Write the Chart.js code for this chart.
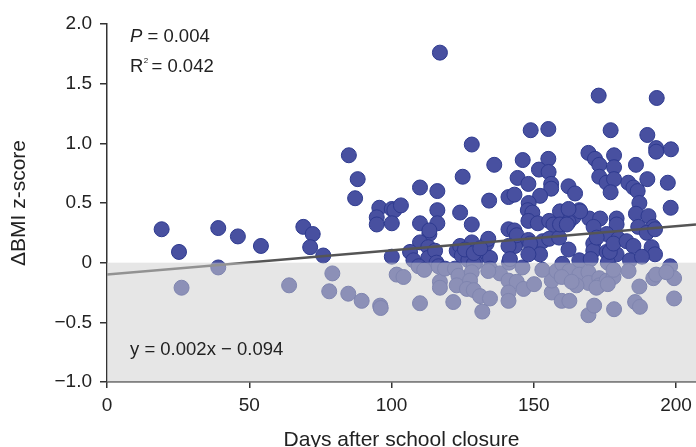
<!DOCTYPE html>
<html>
<head>
<meta charset="utf-8">
<script src="https://cdn.jsdelivr.net/npm/chart.js@4/dist/chart.umd.min.js"></script>
<style>
  html, body { margin: 0; padding: 0; background: #fff; }
  #wrap { width: 696px; height: 447px; }
</style>
</head>
<body>
<div id="wrap"><canvas id="chart"></canvas></div>
<script>
// days after school closure vs change in BMI z-score
const days = [
    19.2, 25.3, 26.2, 39.1, 39.1, 46.0, 54.1, 64.0, 69.0, 72.3, 71.4, 76.0, 79.2, 78.1, 84.8,
    85.0, 88.1, 87.2, 89.5, 95.7, 94.8, 94.8, 96.0, 96.2,
    100.1, 101.0, 103.3, 100.1, 100.1, 101.8, 104.2, 110.0, 110.0, 113.3, 110.0, 106.5, 107.7, 112.9, 112.9, 115.3,
    115.8, 116.1, 116.1, 116.1, 113.3, 117.0, 110.0, 116.5, 117.0, 117.0, 109.5, 111.5, 118.8,
    125.0, 124.1, 128.2, 128.2, 122.9, 124.1, 124.7, 128.2, 130.5, 133.4, 134.0, 134.6, 127.0, 129.5, 134.3, 136.1,
    121.7, 122.3, 123.5, 122.9, 128.9, 128.2, 127.6, 126.5, 128.9, 131.1, 134.6, 131.9, 134.6, 138.1, 125.8, 128.9, 131.2,
    134.0, 141.3, 143.4,
    141.1, 143.2, 144.3, 146.1, 148.1, 148.9, 155.1, 155.1, 151.8, 155.2, 156.1, 156.1, 152.2, 148.2, 147.9, 149.5,
    148.1, 151.4, 141.1, 143.2, 144.0, 141.1, 141.6, 149.3, 148.1, 153.1, 155.4, 158.9, 152.2, 155.4, 158.7, 159.2,
    141.1, 144.0, 146.4, 141.1, 141.1, 150.1, 156.3, 156.3, 159.8, 162.5, 146.0, 153.0, 158.0, 160.0,
    148.7, 148.1, 156.9,
    162.2, 164.5, 162.7, 166.0, 163.9, 162.2, 169.2, 171.5, 173.0, 173.0, 175.6, 172.8, 177.0, 178.2, 178.2, 178.2,
    177.0, 169.5, 173.3, 179.1, 179.1, 175.6, 170.9, 170.9, 175.6, 179.1, 179.7, 162.2, 166.0, 170.0, 176.0,
    171.0, 172.1, 176.7, 166.3, 162.2, 159.2, 161.6, 178.0,
    169.2, 171.2, 178.2, 162.5, 166.0, 169.2, 169.2, 165.0, 173.0, 173.0, 175.6, 178.0, 178.0,
    159.8, 163.3, 172.0, 176.0,
    182.6, 185.0, 183.8, 185.9, 183.2, 185.0, 186.5, 187.1, 185.9, 190.3, 189.9, 189.9, 193.2, 193.0, 193.0, 198.2,
    197.1, 198.1, 192.0, 186.7, 189.7, 192.6, 191.4, 192.6, 188.0,
    185.6, 187.3, 199.3, 187.1, 192.0, 197.9, 199.3, 183.3, 193.0, 196.6
];
const bmiZ = [
    0.28, 0.09, -0.21, 0.29, -0.04, 0.22, 0.14, -0.19, 0.30, 0.24, 0.13, 0.06, -0.09, -0.24, -0.26,
    0.90, 0.70, 0.54, -0.32, 0.46, 0.38, 0.32, -0.36, -0.38,
    0.45, 0.44, 0.48, 0.33, 0.05, -0.10, -0.12, 0.63, 0.33, 0.24, 0.17, 0.09, 0.02, 0.13, 0.04, 0.10,
    0.00, 0.60, 0.44, 0.33, 0.27, 1.76, -0.34, -0.03, -0.16, -0.21, -0.03, -0.06, -0.05,
    0.72, 0.42, 0.99, 0.32, 0.10, 0.14, 0.06, 0.17, 0.09, 0.16, 0.20, 0.04, 0.02, 0.00, 0.52, 0.82,
    -0.33, -0.05, -0.11, -0.19, -0.01, -0.08, -0.15, -0.22, -0.23, -0.28, -0.30, -0.41, -0.05, -0.09, 0.11, 0.08, 0.12,
    -0.07, 0.00, 0.14,
    0.55, 0.57, 0.71, 0.86, 0.66, 1.11, 1.12, 0.87, 0.78, 0.76, 0.66, 0.62, 0.56, 0.50, 0.44, 0.42,
    0.35, 0.33, 0.28, 0.27, 0.23, 0.14, 0.03, 0.09, 0.19, 0.18, 0.20, 0.21, 0.07, 0.35, 0.33, 0.43,
    -0.15, -0.16, -0.22, -0.25, -0.32, -0.18, -0.25, -0.15, -0.32, -0.32, -0.04, -0.06, -0.07, -0.01,
    0.16, 0.07, 0.32,
    0.64, 0.58, 0.43, 0.44, 0.38, 0.34, 0.92, 0.87, 0.82, 0.72, 0.67, 1.40, 1.11, 0.90, 0.80, 0.70,
    0.59, 0.37, 0.37, 0.37, 0.32, 0.24, 0.16, 0.10, 0.09, 0.07, 0.20, 0.11, 0.02, 0.03, 0.00,
    0.30, 0.21, 0.09, 0.43, 0.45, 0.32, 0.32, 0.16,
    -0.44, -0.36, -0.39, -0.07, -0.10, -0.08, -0.17, -0.19, -0.13, -0.19, -0.15, -0.12, -0.06,
    -0.12, -0.16, -0.21, -0.18,
    0.18, 0.14, 0.02, 0.82, 0.67, 0.63, 0.60, 0.50, 0.41, 0.39, 0.70, 1.07, 1.38, 0.96, 0.93, 0.95,
    0.67, 0.46, 0.30, 0.30, 0.25, 0.28, 0.13, 0.07, 0.05,
    -0.33, -0.37, -0.30, -0.20, -0.13, -0.03, -0.13, -0.07, -0.10, -0.08
];

// fitted line as drawn, end points
const fitX = [0, 207];
const fitY = [-0.10, 0.32];

const xTicks = [0, 50, 100, 150, 200];
const yTicks = [-1.0, -0.5, 0, 0.5, 1.0, 1.5, 2.0];

const FONT = "'Liberation Sans', Arial, sans-serif";

function fmtY(v) {
    if (v === 0) return '0';
    return (v < 0 ? '\u2212' : '') + Math.abs(v).toFixed(1);
}

// shade below zero, drawn over the points and the line
const shadePlugin = {
    id: 'shadeBelowZero',
    afterDatasetsDraw(chart) {
        const { ctx, chartArea, scales } = chart;
        const y0 = scales.y.getPixelForValue(0);
        ctx.save();
        ctx.fillStyle = 'rgba(206,206,206,0.51)';
        ctx.fillRect(chartArea.left, y0, chartArea.right - chartArea.left, chartArea.bottom - y0);
        ctx.restore();
    }
};

const notesPlugin = {
    id: 'notes',
    afterDraw(chart) {
        const { ctx, chartArea } = chart;
        const x = chartArea.left + 23;
        ctx.save();
        ctx.fillStyle = '#222';
        ctx.textBaseline = 'alphabetic';
        ctx.textAlign = 'left';

        ctx.font = 'italic 18.5px ' + FONT;
        ctx.fillText('P', x, chartArea.top + 18);
        let w = ctx.measureText('P').width;
        ctx.font = '18.5px ' + FONT;
        ctx.fillText(' = 0.004', x + w, chartArea.top + 18);

        ctx.fillText('R', x, chartArea.top + 48);
        w = ctx.measureText('R').width;
        ctx.font = '8px ' + FONT;
        ctx.fillText('2', x + w + 0.5, chartArea.top + 39);
        ctx.font = '18.5px ' + FONT;
        ctx.fillText(' = 0.042', x + w + 3, chartArea.top + 48);

        ctx.fillText('y = 0.002x \u2212 0.094', x, chartArea.top + 331);
        ctx.restore();
    }
};

const points = days.map((d, i) => ({ x: d, y: bmiZ[i] }));
const fitLine = fitX.map((d, i) => ({ x: d, y: fitY[i] }));

new Chart(document.getElementById('chart'), {
    type: 'scatter',
    data: {
        datasets: [
            {
                type: 'line',
                data: fitLine,
                borderColor: '#555',
                borderWidth: 2.5,
                pointRadius: 0,
                fill: false,
                order: 0
            },
            {
                data: points,
                backgroundColor: '#4850a0',
                borderColor: '#2e3a8f',
                borderWidth: 1,
                pointRadius: 7.5,
                pointHoverRadius: 7.5,
                order: 1
            }
        ]
    },
    options: {
        responsive: true,
        maintainAspectRatio: false,
        animation: false,
        events: [],
        layout: { autoPadding: false, padding: { top: 24, right: 0, left: 0, bottom: 0 } },
        plugins: {
            legend: { display: false },
            tooltip: { enabled: false }
        },
        scales: {
            x: {
                type: 'linear',
                min: 0,
                max: 207,
                z: 1,
                afterFit: s => { s.height = 65; s.paddingLeft = 0; s.paddingRight = 0; },
                afterBuildTicks: s => { s.ticks = xTicks.map(v => ({ value: v })); },
                ticks: {
                    includeBounds: false,
                    color: '#222',
                    padding: 6,
                    font: { family: FONT, size: 19 }
                },
                grid: { drawOnChartArea: false, drawTicks: true, tickLength: 6, color: '#333', lineWidth: 1.5 },
                border: { color: '#333', width: 1.5 },
                title: {
                    display: true,
                    text: 'Days after school closure',
                    color: '#222',
                    padding: { top: 0, bottom: -6 },
                    font: { family: FONT, size: 21 }
                }
            },
            y: {
                type: 'linear',
                min: -1,
                max: 2,
                z: 1,
                afterFit: s => { s.width = 107; },
                afterBuildTicks: s => { s.ticks = yTicks.map(v => ({ value: v })); },
                ticks: {
                    color: '#222',
                    padding: 8,
                    font: { family: FONT, size: 19 },
                    callback: v => fmtY(v)
                },
                grid: { drawOnChartArea: false, drawTicks: true, tickLength: 7, color: '#333', lineWidth: 1.5 },
                border: { color: '#333', width: 1.5 },
                title: {
                    display: true,
                    text: '\u0394BMI z-score',
                    color: '#222',
                    padding: { top: 7, bottom: 0 },
                    font: { family: FONT, size: 21 }
                }
            }
        }
    },
    plugins: [shadePlugin, notesPlugin]
});
</script>
</body>
</html>
